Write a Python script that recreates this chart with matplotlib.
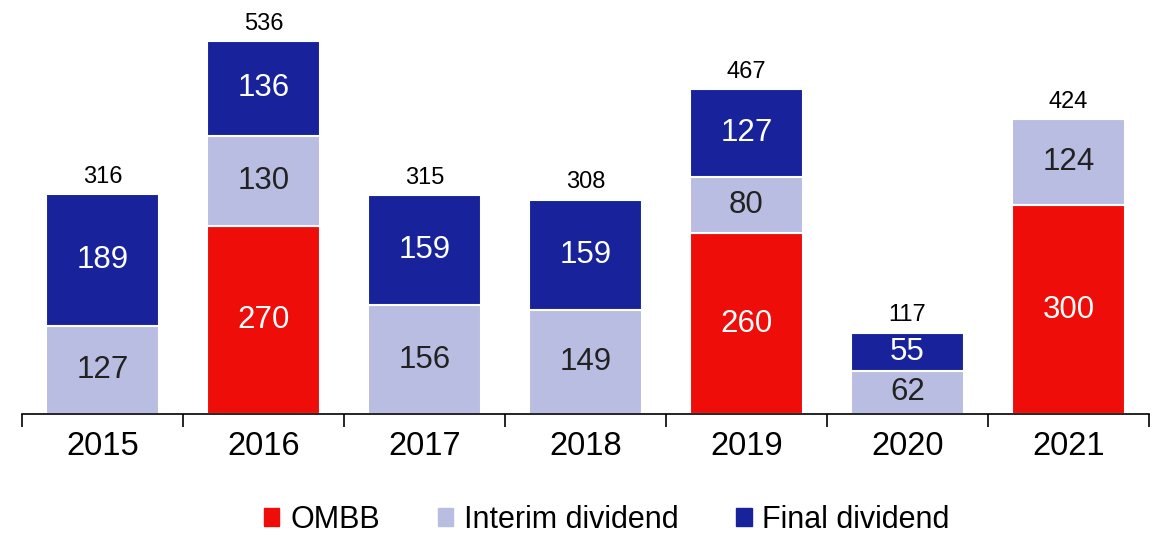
import numpy as np
import matplotlib.pyplot as plt
from matplotlib.patches import Patch

years = ["2015", "2016", "2017", "2018", "2019", "2020", "2021"]
ombb = [0, 270, 0, 0, 260, 0, 300]
interim = [127, 130, 156, 149, 80, 62, 124]
final = [189, 136, 159, 159, 127, 55, 0]

red = "#EE0D09"
lavender = "#BABDE2"
navy = "#18239B"

plt.rcParams['font.family'] = ['Liberation Sans', 'DejaVu Sans']

fig = plt.figure(figsize=(11.65, 5.35), dpi=100)
ax = fig.add_axes([22 / 1165, 121 / 535, 1127 / 1165, 414 / 535])

x = np.arange(len(years))
w = 0.7
ombb = np.array(ombb)
interim = np.array(interim)
final = np.array(final)

ax.bar(x, ombb, w, color=red, edgecolor="white", linewidth=1.5)
ax.bar(x, interim, w, bottom=ombb, color=lavender, edgecolor="white", linewidth=1.5)
ax.bar(x, final, w, bottom=ombb + interim, color=navy, edgecolor="white", linewidth=1.5)

for i in range(len(years)):
    if ombb[i]:
        ax.text(x[i], ombb[i] / 2, str(ombb[i]), ha="center", va="center",
                color="white", fontsize=22.5)
    if interim[i]:
        ax.text(x[i], ombb[i] + interim[i] / 2, str(interim[i]), ha="center",
                va="center", color="#222222", fontsize=22.5)
    if final[i]:
        ax.text(x[i], ombb[i] + interim[i] + final[i] / 2, str(final[i]),
                ha="center", va="center", color="white", fontsize=22.5)
    total = ombb[i] + interim[i] + final[i]
    ax.text(x[i], total + 9, str(total), ha="center", va="bottom",
            color="black", fontsize=17)

ax.set_xlim(-0.5, len(years) - 0.5)
ax.set_ylim(0, 595)
ax.set_yticks([])
for s in ["top", "right", "left"]:
    ax.spines[s].set_visible(False)
ax.spines["bottom"].set_linewidth(1.2)
ax.set_xticks(np.arange(len(years) + 1) - 0.5)
ax.set_xticklabels([])
ax.tick_params(axis="x", length=9, width=1.2, direction="out")
for i, yr in enumerate(years):
    ax.text(x[i], -46, yr, ha="center", va="center", fontsize=23.5)

handles = [Patch(color=red, label="OMBB"),
           Patch(color=lavender, label="Interim dividend"),
           Patch(color=navy, label="Final dividend")]
fig.legend(handles=handles, loc="center", ncol=3, frameon=False,
           fontsize=22, bbox_to_anchor=(607 / 1165, 0.028), handlelength=0.5,
           handleheight=0.5, handletextpad=0.35, columnspacing=1.9,
           borderpad=0)

fig.savefig("out.png", dpi=100)
